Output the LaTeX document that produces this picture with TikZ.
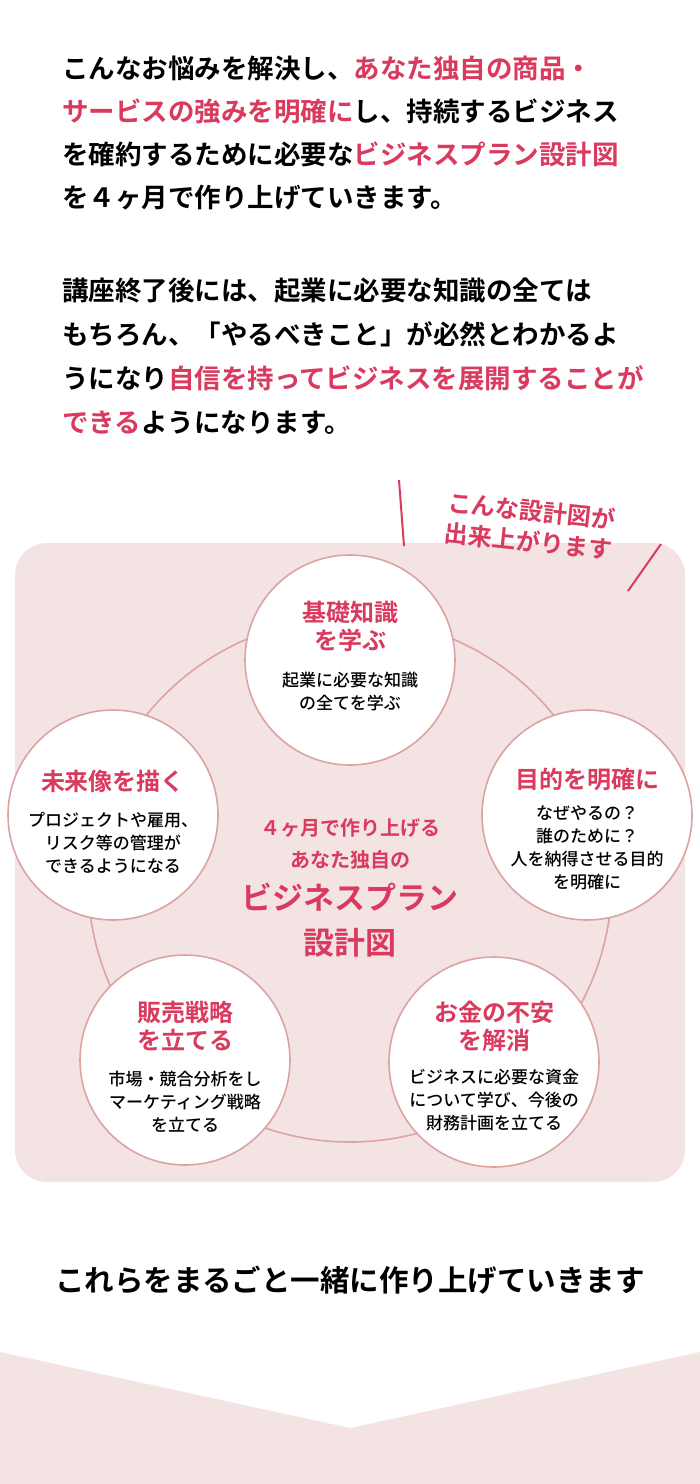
\documentclass[tikz,border=0pt]{standalone}
\usepackage{fontspec}
\setmainfont{Noto Sans CJK JP Medium}
\newfontfamily\boldjp{Noto Sans CJK JP Bold}
\definecolor{accent}{HTML}{D93A5E}
\definecolor{panel}{HTML}{F3E4E3}
\definecolor{ring}{HTML}{DDA3A3}
\newcommand{\hl}[1]{\textcolor{accent}{#1}}
\tikzset{
  bodyline/.style={anchor=west, font=\boldjp\fontsize{26.5}{26}\selectfont, inner sep=0pt},
  stepcircle/.style={circle, draw=ring, line width=1.6pt, fill=white, minimum size=210pt},
  stephead/.style={font=\boldjp\fontsize{24}{28}\selectfont, text=accent, align=center},
  stepbody/.style={font=\fontsize{17}{23}\selectfont, align=center}
}
\begin{document}
\begin{tikzpicture}[x=1pt,y=-1pt]
  \useasboundingbox (0,0) rectangle (700,1484);
  \fill[white] (0,0) rectangle (700,1484);

  % intro text
  \node[bodyline] (l1) at (62,68) {こんなお悩みを解決し、\hl{あなた独自の商品・}};
  \node[bodyline] (l2) at (62,111) {\hl{サービスの強みを明確に}し、持続するビジネス};
  \node[bodyline] (l3) at (62,154) {を確約するために必要な\hl{ビジネスプラン設計図}};
  \node[bodyline] (l4) at (62,198) {を４ヶ月で作り上げていきます。};
  \node[bodyline] (l5) at (62,291) {講座終了後には、起業に必要な知識の全ては};
  \node[bodyline] (l6) at (62,334) {もちろん、「やるべきこと」が必然とわかるよ};
  \node[bodyline] (l7) at (62,378) {うになり\hl{自信を持ってビジネスを展開することが}};
  \node[bodyline] (l8) at (62,423) {\hl{できる}ようになります。};

  % panel
  \fill[panel, rounded corners=32pt] (15,543) rectangle (685,1182);

  % stamp
  \node[rotate=-6, font=\boldjp\fontsize{24}{31}\selectfont, text=accent, align=center] (stamp) at (530,526) {こんな設計図が\\出来上がります};
  \draw[accent, line width=2pt] (399,480) -- (404,546);
  \draw[accent, line width=2pt] (661,544) -- (628,591);

  % ring
  \node[circle, draw=ring, line width=1.6pt, minimum size=524pt] (cycle) at (350,880) {};

  % steps
  \node[stepcircle] (base) at (350,660) {};
  \node[stephead] at (350,626) {基礎知識\\を学ぶ};
  \node[stepbody] at (350,692) {起業に必要な知識\\の全てを学ぶ};

  \node[stepcircle] (aim) at (587,815) {};
  \node[stephead] at (587,779) {目的を明確に};
  \node[stepbody] at (587,848) {なぜやるの？\\誰のために？\\人を納得させる目的\\を明確に};

  \node[stepcircle] (money) at (494,1062) {};
  \node[stephead] at (494,1026) {お金の不安\\を解消};
  \node[stepbody] at (494,1100) {ビジネスに必要な資金\\について学び、今後の\\財務計画を立てる};

  \node[stepcircle] (sales) at (185,1060) {};
  \node[stephead] at (185,1026) {販売戦略\\を立てる};
  \node[stepbody] at (185,1102) {市場・競合分析をし\\マーケティング戦略\\を立てる};

  \node[stepcircle] (future) at (113,815) {};
  \node[stephead] at (113,781) {未来像を描く};
  \node[stepbody] at (113,843) {プロジェクトや雇用、\\リスク等の管理が\\できるようになる};

  % centre title
  \node[font=\boldjp\fontsize{20}{32}\selectfont, text=accent, align=center] (goal1) at (350,844) {４ヶ月で作り上げる\\あなた独自の};
  \node[font=\boldjp\fontsize{31}{45}\selectfont, text=accent, align=center] (goal2) at (350,920) {ビジネスプラン\\設計図};

  % closing
  \node[font=\boldjp\fontsize{29.5}{30}\selectfont] (closing) at (350,1280) {これらをまるごと一緒に作り上げていきます};
  \fill[panel] (0,1352) -- (350,1428) -- (700,1352) -- (700,1484) -- (0,1484) -- cycle;
\end{tikzpicture}
\end{document}
